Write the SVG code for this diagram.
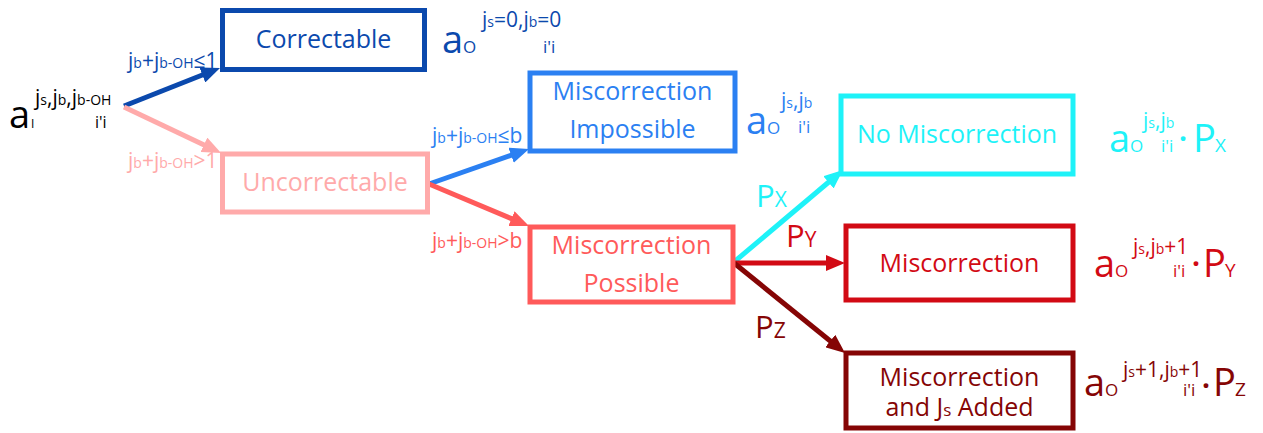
<svg xmlns="http://www.w3.org/2000/svg" width="1263" height="433" viewBox="0 0 1263 433">
<style>
text{font-family:"Open Sans","Noto Sans",sans-serif}
.box{fill:#fff;stroke-width:5}
.bt{font-size:25px;text-anchor:middle}
.edge{stroke-width:5;fill:none}
.s{font-size:14px}
.n{font-size:21px}
.big{font-size:38px}
.o{font-size:17px}
.ii{font-size:17px}
.p{font-size:31px}
.ps{font-size:21px}
.dot{font-size:28px;font-weight:bold}
.c1{fill:#0b49ad}.s1{stroke:#0b49ad}
.c2{fill:#ffaaaa}.s2{stroke:#ffaaaa}
.c3{fill:#2b80f2}.s3{stroke:#2b80f2}
.c4{fill:#ff5a5a}.s4{stroke:#ff5a5a}
.c5{fill:#1ef2f8}.s5{stroke:#1ef2f8}
.c6{fill:#d20a14}.s6{stroke:#d20a14}
.c7{fill:#850505}.s7{stroke:#850505}
</style>
<defs>
<marker id="m1" markerUnits="userSpaceOnUse" markerWidth="19" markerHeight="16" refX="2" refY="8" orient="auto"><path d="M0,0 L19,8 L0,16 Z" fill="#0b49ad"/></marker>
<marker id="m2" markerUnits="userSpaceOnUse" markerWidth="19" markerHeight="16" refX="2" refY="8" orient="auto"><path d="M0,0 L19,8 L0,16 Z" fill="#ffaaaa"/></marker>
<marker id="m3" markerUnits="userSpaceOnUse" markerWidth="19" markerHeight="16" refX="2" refY="8" orient="auto"><path d="M0,0 L19,8 L0,16 Z" fill="#2b80f2"/></marker>
<marker id="m4" markerUnits="userSpaceOnUse" markerWidth="19" markerHeight="16" refX="2" refY="8" orient="auto"><path d="M0,0 L19,8 L0,16 Z" fill="#ff5a5a"/></marker>
<marker id="m5" markerUnits="userSpaceOnUse" markerWidth="19" markerHeight="16" refX="2" refY="8" orient="auto"><path d="M0,0 L19,8 L0,16 Z" fill="#1ef2f8"/></marker>
<marker id="m6" markerUnits="userSpaceOnUse" markerWidth="19" markerHeight="16" refX="2" refY="8" orient="auto"><path d="M0,0 L19,8 L0,16 Z" fill="#d20a14"/></marker>
<marker id="m7" markerUnits="userSpaceOnUse" markerWidth="19" markerHeight="16" refX="2" refY="8" orient="auto"><path d="M0,0 L19,8 L0,16 Z" fill="#850505"/></marker>
</defs>

<g id="connectors">
<line class="edge s1" x1="124" y1="106" x2="204.2" y2="74.3" marker-end="url(#m1)"/>
<line class="edge s2" x1="124" y1="107" x2="205.7" y2="145.7" marker-end="url(#m2)"/>
<line class="edge s3" x1="429" y1="184" x2="513" y2="154.6" marker-end="url(#m3)"/>
<line class="edge s4" x1="429" y1="184" x2="513.3" y2="219.4" marker-end="url(#m4)"/>
<line class="edge s5" x1="734" y1="262" x2="830" y2="181" marker-end="url(#m5)"/>
<line class="edge s6" x1="734" y1="263" x2="828" y2="263" marker-end="url(#m6)"/>
<line class="edge s7" x1="734" y1="263" x2="831.8" y2="342.3" marker-end="url(#m7)"/>
<text x="128" y="68" class="c1"><tspan class="n">j</tspan><tspan class="s">b</tspan><tspan class="n">+j</tspan><tspan class="s">b-OH</tspan><tspan class="n">≤1</tspan></text>
<text x="128" y="168" class="c2"><tspan class="n">j</tspan><tspan class="s">b</tspan><tspan class="n">+j</tspan><tspan class="s">b-OH</tspan><tspan class="n">&gt;1</tspan></text>
<text x="432" y="143" class="c3"><tspan class="n">j</tspan><tspan class="s">b</tspan><tspan class="n">+j</tspan><tspan class="s">b-OH</tspan><tspan class="n">≤b</tspan></text>
<text x="432" y="248" class="c4"><tspan class="n">j</tspan><tspan class="s">b</tspan><tspan class="n">+j</tspan><tspan class="s">b-OH</tspan><tspan class="n">&gt;b</tspan></text>
<text x="756" y="207" class="c5"><tspan class="p">P</tspan><tspan class="ps">X</tspan></text>
<text x="786" y="247" class="c6"><tspan class="p">P</tspan><tspan class="ps">Y</tspan></text>
<text x="755" y="338" class="c7"><tspan class="p">P</tspan><tspan class="ps">Z</tspan></text>
</g>

<g id="start">
<text x="9" y="128" font-size="38">a</text>
<text x="31" y="128" font-size="12">I</text>
<text x="35" y="105"><tspan class="n">j</tspan><tspan class="s">s</tspan><tspan class="n">,j</tspan><tspan class="s">b</tspan><tspan class="n">,j</tspan><tspan class="s">b-OH</tspan></text>
<text x="95" y="128" font-size="16">i'i</text>
</g>

<g id="correctable">
<rect class="box s1" x="222.5" y="10.5" width="202" height="59"/>
<text x="323.5" y="48" class="bt c1">Correctable</text>
<text x="442" y="53" class="big c1">a</text>
<text x="463" y="53" class="o c1">O</text>
<text x="482" y="27" class="c1"><tspan class="n">j</tspan><tspan class="s">s</tspan><tspan class="n">=0,j</tspan><tspan class="s">b</tspan><tspan class="n">=0</tspan></text>
<text x="543" y="53" class="ii c1">i'i</text>
</g>

<g id="uncorrectable">
<rect class="box s2" x="222.5" y="154" width="205" height="58"/>
<text x="325" y="191" class="bt c2">Uncorrectable</text>
</g>

<g id="miscorrection-impossible">
<rect class="box s3" x="530" y="73" width="205" height="78"/>
<text x="632.5" y="100" class="bt c3">Miscorrection</text>
<text x="632.5" y="138" class="bt c3">Impossible</text>
<text x="746" y="134" class="big c3">a</text>
<text x="767" y="134" class="o c3">O</text>
<text x="781" y="108" class="c3"><tspan class="n">j</tspan><tspan class="s">s</tspan><tspan class="n">,j</tspan><tspan class="s">b</tspan></text>
<text x="798" y="133" class="ii c3">i'i</text>
</g>

<g id="miscorrection-possible">
<rect class="box s4" x="530" y="227" width="203" height="75"/>
<text x="631.5" y="254" class="bt c4">Miscorrection</text>
<text x="631.5" y="292" class="bt c4">Possible</text>
</g>

<g id="no-miscorrection">
<rect class="box s5" x="841" y="96" width="232" height="78"/>
<text x="957" y="143" class="bt c5">No Miscorrection</text>
<text x="1109" y="152" class="big c5">a</text>
<text x="1130" y="152" class="o c5">O</text>
<text x="1143" y="128" class="c5"><tspan class="n">j</tspan><tspan class="s">s</tspan><tspan class="n">,j</tspan><tspan class="s">b</tspan></text>
<text x="1161" y="152" class="ii c5">i'i</text>
<text x="1179" y="149" class="dot c5">·</text>
<text x="1193" y="152" class="big c5">P</text>
<text x="1215" y="152" font-size="19" class="c5">X</text>
</g>

<g id="miscorrection">
<rect class="box s6" x="846" y="226" width="227" height="74"/>
<text x="959.5" y="272" class="bt c6">Miscorrection</text>
<text x="1094" y="277" class="big c6">a</text>
<text x="1115" y="277" class="o c6">O</text>
<text x="1133" y="254" class="c6"><tspan class="n">j</tspan><tspan class="s">s</tspan><tspan class="n">,j</tspan><tspan class="s">b</tspan><tspan class="n">+1</tspan></text>
<text x="1173" y="277" class="ii c6">i'i</text>
<text x="1192" y="274" class="dot c6">·</text>
<text x="1203" y="277" class="big c6">P</text>
<text x="1225" y="277" font-size="19" class="c6">Y</text>
</g>

<g id="miscorrection-js-added">
<rect class="box s7" x="846" y="353" width="227" height="75"/>
<text x="959.5" y="386" class="bt c7">Miscorrection</text>
<text x="959.5" y="416" class="bt c7">and J<tspan font-size="17">s</tspan> Added</text>
<text x="1084" y="396" class="big c7">a</text>
<text x="1105" y="396" class="o c7">O</text>
<text x="1123" y="377" class="c7"><tspan class="n">j</tspan><tspan class="s">s</tspan><tspan class="n">+1,j</tspan><tspan class="s">b</tspan><tspan class="n">+1</tspan></text>
<text x="1183" y="396" class="ii c7">i'i</text>
<text x="1202" y="396" class="dot c7">·</text>
<text x="1213" y="396" class="big c7">P</text>
<text x="1235" y="396" font-size="19" class="c7">Z</text>
</g>
</svg>
